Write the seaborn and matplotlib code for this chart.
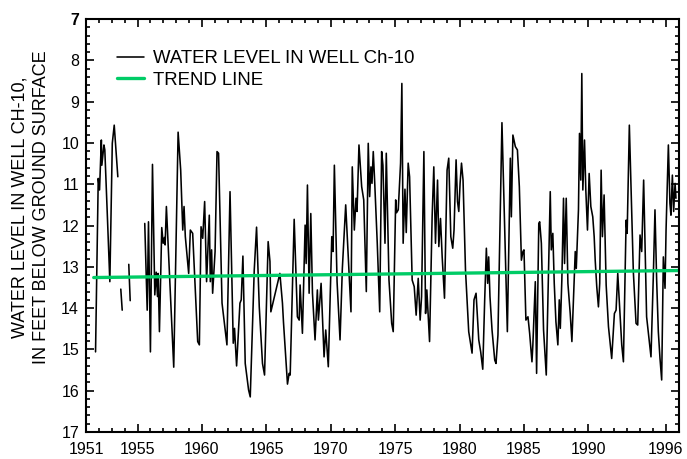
import numpy as np
import pandas as pd
import matplotlib
matplotlib.use('Agg')
import matplotlib.pyplot as plt
from matplotlib.lines import Line2D
from matplotlib.ticker import MultipleLocator
import seaborn as sns

nan = np.nan

# water level record (feet below land surface); NaN marks a break in the record
years = [
    1951.74, 1951.95, 1952.05, 1952.19, 1952.23, 1952.39, 1952.46, 1952.67, 1952.85, 1953.04, 1953.19, 1953.47, nan,
    1953.70, 1953.81, nan,
    1954.32, 1954.43, nan,
    1955.56, 1955.75, 1955.85, 1956.00, 1956.16, 1956.34, 1956.45, 1956.55, 1956.60, 1956.70,
    1956.88, 1956.99, 1957.09, 1957.14, 1957.24, 1957.81, 1958.15, 1958.35, 1958.51, 1958.61,
    1958.71, 1958.97, 1959.10, 1959.28, 1959.67, 1959.80, 1959.93, 1960.06, 1960.21, 1960.36,
    1960.57, 1960.65, 1960.75, 1960.83, 1961.02, 1961.17, 1961.29, 1961.56, 1961.94, 1962.18,
    1962.43, 1962.53, 1962.69, 1962.95, 1963.05, 1963.18, 1963.36, 1963.62, 1963.75, 1964.06,
    1964.24, 1964.45, 1964.70, 1964.86, 1965.14, 1965.28, 1965.35, 1966.05, 1966.25, 1966.33,
    1966.64, 1966.77, 1966.85, 1967.16, 1967.29, 1967.41, 1967.55, 1967.62, 1967.80, 1968.01,
    1968.09, 1968.19, 1968.32, 1968.45, 1968.58, 1968.78, 1968.96, 1969.04, 1969.25, 1969.48,
    1969.61, 1969.81, 1970.08, 1970.18, 1970.28, 1970.49, 1970.72, 1970.90, 1971.16, 1971.32,
    1971.57, 1971.67, 1971.83, 1971.96, 1972.04, 1972.19, 1972.40, 1972.56, 1972.76, 1972.91,
    1973.02, 1973.12, 1973.20, 1973.30, 1973.41, 1973.61, 1973.80, 1973.95, 1974.05, 1974.21,
    1974.31, 1974.52, 1974.73, 1974.85, 1975.04, 1975.11, 1975.24, 1975.42, 1975.52, 1975.62,
    1975.76, 1975.86, 1976.01, 1976.12, 1976.32, 1976.48, 1976.63, 1976.79, 1976.94, 1977.05,
    1977.23, 1977.36, 1977.46, 1977.67, 1977.87, 1978.00, 1978.13, 1978.29, 1978.39, 1978.52,
    1978.65, 1978.83, 1979.03, 1979.16, 1979.32, 1979.47, 1979.57, 1979.73, 1979.84, 1979.94,
    1980.04, 1980.15, 1980.27, 1980.46, 1980.71, 1980.97, 1981.12, 1981.28, 1981.49, 1981.64,
    1981.80, 1981.95, 1982.08, 1982.18, 1982.26, 1982.36, 1982.52, 1982.73, 1982.83, 1982.98,
    1983.29, 1983.71, 1983.94, 1984.02, 1984.14, 1984.33, 1984.49, 1984.64, 1984.80, 1984.92,
    1985.00, 1985.15, 1985.31, 1985.44, 1985.62, 1985.69, 1985.88, 1985.98, 1986.15, 1986.22,
    1986.35, 1986.52, 1986.73, 1987.04, 1987.12, 1987.24, 1987.35, 1987.48, 1987.63, 1987.74,
    1987.82, 1987.94, 1988.07, 1988.15, 1988.28, 1988.41, 1988.59, 1988.72, 1988.98, 1989.06,
    1989.23, 1989.31, 1989.41, 1989.49, 1989.57, 1989.70, 1989.80, 1989.93, 1990.06, 1990.19,
    1990.34, 1990.45, 1990.53, 1990.65, 1990.78, 1990.88, 1990.99, 1991.09, 1991.22, 1991.38,
    1991.56, 1991.81, 1992.02, 1992.15, 1992.28, 1992.59, 1992.72, 1992.93, 1993.01, 1993.18,
    1993.49, 1993.70, 1993.83, 1994.01, 1994.14, 1994.29, 1994.52, 1994.86, 1995.04, 1995.17,
    1995.30, 1995.43, 1995.56, 1995.69, 1995.82, 1995.95, 1996.03, 1996.21, 1996.33, 1996.41,
    1996.52, 1996.62, 1996.73, 1996.80,
]
levels = [
    15.06, 10.86, 11.14, 9.93, 10.54, 10.05, 10.17, 11.87, 13.36, 10.01, 9.57, 10.82, nan,
    13.54, 14.05, nan,
    12.94, 13.82, nan,
    11.95, 14.05, 11.91, 15.06, 10.52, 13.68, 13.13, 13.72, 13.16, 14.57,
    12.05, 12.43, 12.29, 12.47, 11.54, 15.43, 9.74, 10.66, 12.11, 11.54,
    12.27, 13.16, 12.11, 12.19, 14.81, 14.89, 12.03, 12.31, 11.42, 13.36,
    11.75, 13.36, 12.59, 13.64, 12.63, 10.21, 10.25, 13.88, 14.89, 11.18,
    14.85, 14.49, 15.40, 13.88, 13.80, 12.74, 15.34, 15.98, 16.15, 13.08,
    12.04, 13.97, 15.34, 15.62, 12.39, 12.87, 14.09, 13.16, 13.88, 14.34,
    15.84, 15.58, 15.62, 11.85, 13.08, 14.21, 14.29, 13.44, 14.61, 11.99,
    12.92, 11.02, 13.64, 11.71, 13.64, 14.77, 13.56, 14.29, 13.40, 15.18,
    14.53, 15.42, 12.27, 12.63, 10.54, 13.36, 14.77, 13.04, 11.50, 12.51,
    14.09, 10.58, 12.11, 11.34, 11.66, 10.05, 11.06, 11.38, 13.60, 10.01,
    11.30, 10.58, 10.98, 10.21, 10.94, 12.43, 14.09, 10.21, 10.54, 12.43,
    10.25, 13.32, 14.37, 14.57, 11.38, 11.69, 11.62, 10.49, 8.56, 12.43,
    11.12, 12.17, 10.49, 10.82, 13.32, 13.48, 14.17, 13.28, 14.29, 13.72,
    10.21, 14.13, 13.56, 14.81, 11.79, 10.58, 12.43, 10.90, 12.51, 11.83,
    12.76, 13.76, 10.66, 10.37, 12.27, 12.55, 12.11, 10.41, 11.42, 11.66,
    10.98, 10.49, 10.90, 13.08, 14.57, 15.09, 13.80, 13.64, 14.77, 15.06,
    15.48, 13.80, 12.55, 13.40, 12.76, 13.72, 14.53, 15.26, 15.34, 14.65,
    9.51, 14.57, 10.37, 11.79, 9.81, 10.09, 10.17, 11.06, 12.84, 12.63,
    12.59, 14.29, 14.21, 14.61, 15.30, 14.89, 13.36, 15.58, 11.95, 11.91,
    12.43, 14.53, 15.62, 11.18, 12.59, 12.19, 13.40, 14.33, 14.89, 13.80,
    14.49, 13.32, 11.34, 12.92, 11.34, 13.40, 14.13, 14.81, 12.63, 13.04,
    11.62, 9.77, 10.90, 8.32, 11.14, 9.93, 11.14, 12.11, 10.74, 11.54,
    11.79, 12.27, 12.84, 13.48, 13.97, 13.40, 10.66, 12.27, 11.26, 13.44,
    14.45, 15.22, 14.13, 14.05, 13.16, 14.89, 15.30, 11.87, 12.19, 9.57,
    13.12, 14.37, 14.41, 12.23, 12.63, 10.90, 14.21, 15.18, 13.24, 11.62,
    13.32, 14.57, 15.22, 15.74, 12.76, 13.52, 12.11, 10.05, 11.46, 11.75,
    10.78, 11.66, 10.98, 11.34,
]

trend_years = [1951.6, 1997.0]
trend_levels = [13.26, 13.09]

year_ticks = [1951, 1955, 1960, 1965, 1970, 1975, 1980, 1985, 1990, 1996]
level_ticks = list(range(7, 18))

sns.set_style('ticks')
plt.rcParams['font.family'] = ['Liberation Sans', 'DejaVu Sans']
plt.rcParams['text.color'] = 'black'
plt.rcParams['axes.labelcolor'] = 'black'

df = pd.DataFrame({'year': years, 'level': levels})
df['segment'] = df['level'].isna().cumsum()
df = df.dropna()

fig = plt.figure(figsize=(6.87, 4.59), dpi=100)
ax = fig.add_axes([0.1252, 0.0588, 0.8625, 0.8998])

sns.lineplot(data=df, x='year', y='level', units='segment', estimator=None,
             color='black', lw=1.15, ax=ax)
sns.lineplot(x=trend_years, y=trend_levels, color='#00cc66', lw=2.4, ax=ax)

ax.set_xlim(1951, 1997)
ax.set_ylim(17, 7)
ax.set_xticks(year_ticks)
ax.set_xticklabels([str(y) for y in year_ticks])
ax.xaxis.set_minor_locator(MultipleLocator(1))
ax.set_yticks(level_ticks)
ax.set_yticklabels([str(v) for v in level_ticks])
ax.yaxis.set_minor_locator(MultipleLocator(0.2))
ax.get_yticklabels()[0].set_fontweight('bold')

ax.tick_params(which='both', direction='in', top=True, right=True, width=1.2, colors='black')
ax.tick_params(which='major', length=6, labelsize=11.5)
ax.tick_params(axis='x', which='major', pad=7)
ax.tick_params(axis='y', which='major', pad=5)
ax.tick_params(which='minor', length=3)
for sp in ax.spines.values():
    sp.set_linewidth(1.5)
    sp.set_color('black')

ax.set_xlabel('')
ax.set_ylabel('WATER LEVEL IN WELL CH-10,\nIN FEET BELOW GROUND SURFACE',
              fontsize=13, linespacing=1.3, va='center')
ax.yaxis.set_label_coords(-0.093, 0.544)

handles = [Line2D([], [], color='black', lw=1.15),
           Line2D([], [], color='#00cc66', lw=2.4)]
ax.legend(handles, ['WATER LEVEL IN WELL Ch-10', 'TREND LINE'],
          loc='upper left', bbox_to_anchor=(0.04, 0.943), borderaxespad=0,
          frameon=False, fontsize=13.4, handlelength=1.45, handletextpad=0.48,
          labelspacing=0.25)

fig.savefig('out.png', dpi=100)
